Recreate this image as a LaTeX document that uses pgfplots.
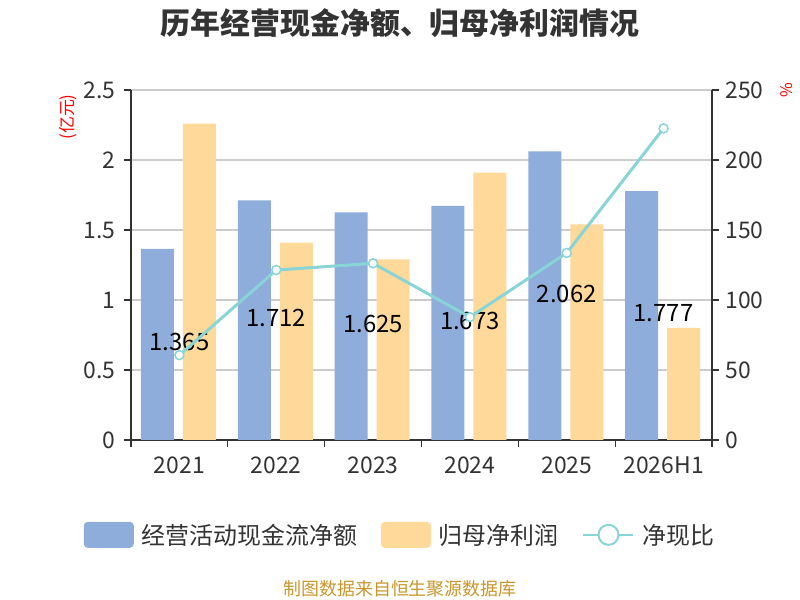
\documentclass[border=0pt]{standalone}
\usepackage{pgfplots}
\pgfplotsset{compat=1.18}
\usepackage{fontspec}
\setmainfont{Noto Sans CJK SC}
\definecolor{cblue}{RGB}{142,173,219}
\definecolor{cyel}{RGB}{255,217,153}
\definecolor{cline}{RGB}{136,212,214}
\definecolor{ctext}{RGB}{51,51,51}
\definecolor{cgrid}{RGB}{204,204,204}
\definecolor{csrc}{RGB}{200,150,45}
\begin{document}
\begin{tikzpicture}
\path[use as bounding box] (0bp,0bp) rectangle (800bp,600bp);
\begin{axis}[
  at={(131bp,160bp)}, anchor=south west,
  scale only axis, width=581bp, height=350bp,
  xmin=-0.5, xmax=5.5, ymin=0, ymax=2.5,
  axis x line*=bottom, axis y line*=left,
  axis line style={-, draw=ctext, line width=1.3bp},
  xtick={0,1,2,3,4,5},
  xticklabels={2021,2022,2023,2024,2025,2026H1},
  minor xtick={-0.5,0.5,1.5,2.5,3.5,4.5,5.5},
  major x tick style={draw=none},
  minor x tick style={draw=ctext, line width=1.3bp},
  minor tick length=7bp,
  ytick={0,0.5,1,1.5,2,2.5},
  major tick length=7bp,
  y tick style={draw=ctext, line width=1.3bp},
  tick align=outside,
  ymajorgrids, grid style={draw=cgrid, line width=1.2bp},
  /pgf/number format/assume math mode=true,
  ticklabel style={font=\fontsize{23}{23}\selectfont, text=ctext},
  xticklabel style={yshift=-6bp},
  yticklabel style={xshift=-5bp},
]
\addplot[ybar, bar width=33bp, bar shift=-22bp, fill=cblue, draw=none,
  visualization depends on={y \as \rawy},
  nodes near coords={\pgfmathprintnumber[fixed,precision=3]{\pgfplotspointmeta}},
  every node near coord/.append style={anchor=center, font=\fontsize{24}{24}\selectfont, text=black,
    shift={(axis direction cs:0,-\rawy/2)}, yshift=2bp}]
  coordinates {(0,1.365) (1,1.712) (2,1.625) (3,1.673) (4,2.062) (5,1.777)};
\addplot[ybar, bar width=33bp, bar shift=20bp, fill=cyel, draw=none]
  coordinates {(0,2.26) (1,1.41) (2,1.29) (3,1.91) (4,1.54) (5,0.80)};
\end{axis}
\begin{axis}[
  at={(131bp,160bp)}, anchor=south west,
  scale only axis, width=581bp, height=350bp,
  xmin=-0.5, xmax=5.5, ymin=0, ymax=250,
  axis x line=none, axis y line*=right,
  axis line style={-, draw=ctext, line width=1.3bp},
  ytick={0,50,100,150,200,250},
  major tick length=7bp,
  y tick style={draw=ctext, line width=1.3bp},
  tick align=outside,
  /pgf/number format/assume math mode=true,
  ticklabel style={font=\fontsize{23}{23}\selectfont, text=ctext},
  yticklabel style={xshift=3bp},
  legend style={at={(0.463,-0.271)}, anchor=center, draw=none, fill=none,
    legend columns=3, font=\fontsize{24}{24}\selectfont, text=ctext,
    /tikz/every odd column/.append style={column sep=6bp},
    /tikz/every even column/.append style={column sep=22bp},
    legend cell align=left, inner sep=0pt},
  legend image code/.code={\fill[#1, draw=none, rounded corners=4bp] (0bp,-13bp) rectangle (50bp,13bp);},
]
\addlegendimage{fill=cblue, draw=none}
\addlegendentry{经营活动现金流净额}
\addlegendimage{fill=cyel, draw=none}
\addlegendentry{归母净利润}
\addplot[color=cline, line width=3bp, mark=*, mark size=4.5bp,
  mark options={fill=white, draw=cline, line width=1.5bp},
  legend image code/.code={\draw[cline, line width=2bp] (0bp,0bp) -- (50bp,0bp);
    \draw[cline, line width=2bp, fill=white] (25bp,0bp) circle (10bp);}]
  coordinates {(0,60.6) (1,121.4) (2,126.2) (3,87.8) (4,133.6) (5,222.6)};
\addlegendentry{净现比}
\end{axis}
\node[font=\fontsize{30}{30}\selectfont\bfseries, text=ctext] at (400bp,577bp) {历年经营现金净额、归母净利润情况};
\node[font=\fontsize{17}{17}\selectfont, text=red, rotate=90] at (68bp,483bp) {(亿元)};
\node[font=\fontsize{16}{16}\selectfont, text=red, rotate=90] at (787bp,510bp) {\%};
\node[font=\fontsize{18}{18}\selectfont, text=csrc] at (400bp,11bp) {制图数据来自恒生聚源数据库};
\end{tikzpicture}
\end{document}
